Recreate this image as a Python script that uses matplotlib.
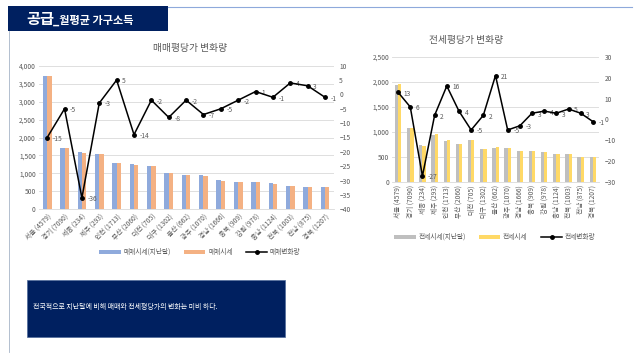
import matplotlib
matplotlib.use("Agg")
import matplotlib.pyplot as plt
from matplotlib.patches import Rectangle, Patch
from matplotlib.lines import Line2D
import numpy as np

plt.rcParams['font.family'] = ['Noto Sans CJK KR', 'DejaVu Sans']

# ---- data ----
categories = ['서울 (4579)', '경기 (7090)', '세종 (234)', '제주 (293)', '인천 (1713)',
              '부산 (2060)', '대전 (705)', '대구 (1302)', '울산 (662)', '광주 (1070)',
              '경남 (1666)', '충북 (909)', '강원 (978)', '충남 (1124)', '전북 (1003)',
              '전남 (875)', '경북 (1207)']

sale_prev = [3700, 1700, 1585, 1530, 1280, 1250, 1195, 1000, 945, 945, 805, 750, 750, 722, 640, 612, 612]
sale_now = [3700, 1700, 1555, 1528, 1280, 1225, 1195, 1000, 945, 925, 798, 750, 750, 714, 659, 612, 612]
sale_chg = [-15, -5, -36, -3, 5, -14, -2, -8, -2, -7, -5, -2, 1, -1, 4, 3, -1]

jeon_prev = [1940, 1090, 740, 950, 822, 756, 842, 663, 676, 683, 623, 623, 603, 564, 564, 510, 504]
jeon_now = [1960, 1080, 713, 960, 842, 756, 842, 663, 696, 683, 623, 623, 603, 564, 564, 510, 504]
jeon_chg = [13, 6, -27, 2, 16, 4, -5, 2, 21, -5, -3, 3, 4, 3, 5, 3, -1]

left_yticks = [0, 500, 1000, 1500, 2000, 2500, 3000, 3500, 4000]
left_y2ticks = [-40, -35, -30, -25, -20, -15, -10, -5, 0, 5, 10]
right_yticks = [0, 500, 1000, 1500, 2000, 2500]
right_y2ticks = [-30, -20, -10, 0, 10, 20, 30]

W, H = 640, 360
fig = plt.figure(figsize=(W / 100, H / 100), dpi=100)
fig.patch.set_facecolor('white')

def px(x0, y0, x1, y1):
    return [x0 / W, 1 - y1 / H, (x1 - x0) / W, (y1 - y0) / H]

NAVY = '#002060'
TXT = '#595959'
GRID = '#D9D9D9'

# ---- header / frame ----
bg = fig.add_axes([0, 0, 1, 1])
bg.set_xlim(0, W)
bg.set_ylim(H, 0)
bg.axis('off')
bg.add_patch(Rectangle((8, 6), 160, 25, facecolor=NAVY, edgecolor='none'))
bg.plot([168, 632], [6.5, 6.5], color='#8EA9DB', lw=0.8)
bg.plot([9, 9], [31, 352], color='#A6B4C8', lw=0.6)
bg.text(26, 19, '공급', color='white', fontsize=11, fontweight='bold', va='center', ha='left')
bg.text(53, 20.5, '_월평균 가구소득', color='white', fontsize=8, fontweight='bold', va='center', ha='left')
bg.add_patch(Rectangle((27, 280), 258, 57, facecolor=NAVY, edgecolor='#4F6A9A', lw=0.5))
bg.text(33, 307, '전국적으로 지난달에 비해 매매와 전세평당가의 변화는 미비 하다.',
        color='white', fontsize=5, va='center', ha='left')

def draw_chart(rect, prev, now, chg, yt, y2t, c1, c2, title, title_xy, rot, bw, legend_labels, legend_xy, lfs):
    ax = fig.add_axes(rect)
    x = np.arange(len(categories))
    ax.bar(x - bw / 2, prev, width=bw, color=c1, zorder=2)
    ax.bar(x + bw / 2, now, width=bw, color=c2, zorder=2)
    ax.set_xlim(-0.5, len(categories) - 0.5)
    ax.set_ylim(yt[0], yt[-1])
    ax.set_yticks(yt)
    ax.set_yticklabels([f'{v:,}' for v in yt])
    ax.yaxis.grid(True, color=GRID, lw=0.6, zorder=0)
    ax.set_axisbelow(True)
    for s in ['top', 'right', 'left']:
        ax.spines[s].set_visible(False)
    ax.spines['bottom'].set_color(GRID)
    ax.spines['bottom'].set_linewidth(0.6)
    ax.tick_params(length=0, labelsize=lfs, labelcolor=TXT, pad=2)
    ax.set_xticks(x)
    if rot == 45:
        ax.set_xticklabels(categories, rotation=45, ha='right', va='top', rotation_mode='anchor')
    else:
        ax.set_xticklabels(categories, rotation=90, ha='center', va='top')
    ax2 = ax.twinx()
    ax2.set_ylim(y2t[0], y2t[-1])
    ax2.set_yticks(y2t)
    for s in ['top', 'right', 'left', 'bottom']:
        ax2.spines[s].set_visible(False)
    ax2.tick_params(length=0, labelsize=lfs, labelcolor=TXT, pad=4)
    ax2.plot(x, chg, color='black', lw=1.1, marker='o', ms=2.5, zorder=5)
    for xi, v in zip(x, chg):
        ax2.annotate(str(v), (xi, v), xytext=(4, -1), textcoords='offset points',
                     fontsize=lfs, color=TXT, ha='left', va='center')
    bg.text(title_xy[0], title_xy[1], title, fontsize=7, color=TXT, ha='center', va='center')
    handles = [Patch(facecolor=c1), Patch(facecolor=c2),
               Line2D([0], [0], color='black', marker='o', ms=2.5, lw=1.1)]
    fig.legend(handles, legend_labels, loc='center', bbox_to_anchor=(legend_xy[0] / W, 1 - legend_xy[1] / H),
               ncol=3, frameon=False, fontsize=lfs, labelcolor=TXT, handlelength=3.2,
               handleheight=0.6, columnspacing=2.0, handletextpad=0.4)
    return ax, ax2

draw_chart(px(38.5, 65.7, 333.7, 209.3), sale_prev, sale_now, sale_chg,
           left_yticks, left_y2ticks, '#8FAADC', '#F4B183', '매매평당가 변화량', (190, 48), 45, 0.25,
           ['매매시세(지난달)', '매매시세', '매매변화량'], (200, 252), 4.8)

draw_chart(px(392, 56.7, 599, 182.3), jeon_prev, jeon_now, jeon_chg,
           right_yticks, right_y2ticks, '#BFBFBF', '#FFD966', '전세평당가 변화량', (466, 40), 90, 0.27,
           ['전세시세(지난달)', '전세시세', '전세변화량'], (495, 237), 4.8)

fig.savefig('out.png', dpi=100, facecolor='white')
